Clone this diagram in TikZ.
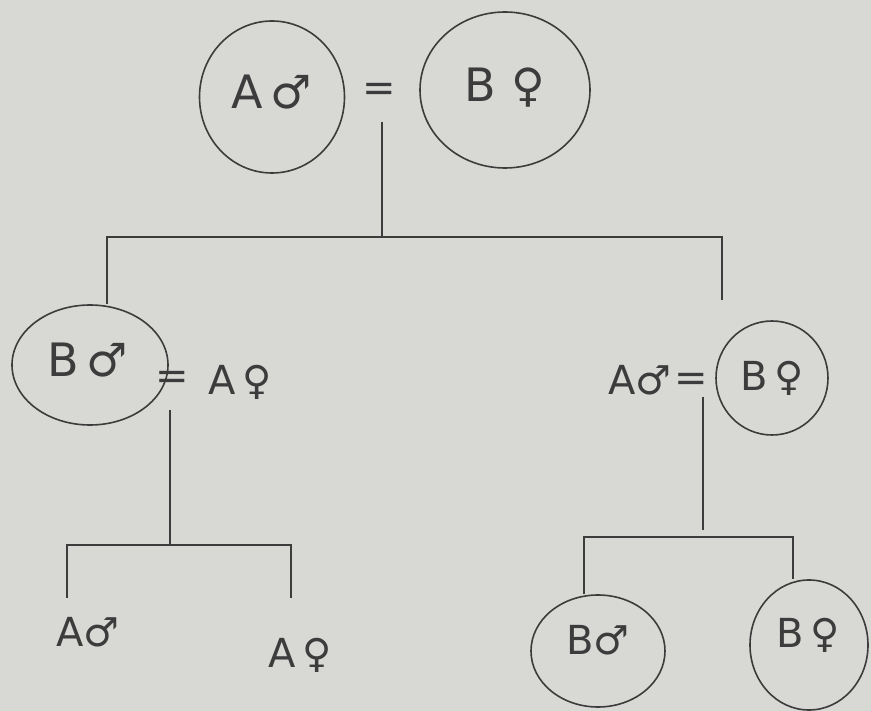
\documentclass[tikz,border=0pt]{standalone}
\usepackage{fontspec}
\setmainfont{DejaVu Sans}
\usetikzlibrary{shapes.geometric}
\definecolor{paper}{HTML}{D8D8D5}
\definecolor{ink}{HTML}{3C3C3C}
\tikzset{
  person/.style={ellipse, draw=ink, line width=1.6pt, inner sep=0pt},
  lbl/.style={text=ink, font=\fontsize{40}{48}\selectfont, inner sep=0pt},
  big/.style={text=ink, font=\fontsize{46}{54}\selectfont, inner sep=0pt},
  tie/.style={draw=ink, line width=1.6pt}
}
\begin{document}
\begin{tikzpicture}[x=1pt,y=-1pt]
\fill[paper] (0,0) rectangle (871,711);
\useasboundingbox (0,0) rectangle (871,711);
% generation 1
\node[person, minimum width=145pt, minimum height=152pt] (g1m) at (272,97) {};
\node[big] at (272,92) {A\,♂};
\node[person, minimum width=170pt, minimum height=156pt] (g1f) at (505,90) {};
\node[big] at (505,88) {B\,\,♀};
\node[lbl] (eq1) at (379,92) {=};
\coordinate (c1) at (382,122);
\coordinate (h1) at (382,237);
\coordinate (l1) at (107,237);
\coordinate (r1) at (722,237);
\coordinate (r1e) at (722,300);
% generation 2 left
\node[person, minimum width=156pt, minimum height=120pt] (g2lm) at (90,365) {};
\node[big] at (88,360) {B\,♂};
\node[lbl] (eq2) at (172,380) {=};
\node[lbl] (g2lf) at (240,382) {A\,♀};
\coordinate (c2) at (170,410);
\coordinate (h2) at (170,545);
\coordinate (l2) at (67,545);
\coordinate (l2e) at (67,598);
\coordinate (r2) at (291,545);
\coordinate (r2e) at (291,598);
% generation 2 right
\node[lbl] (g2rm) at (640,380) {A♂};
\node[lbl] (eq3) at (691,382) {=};
\node[person, minimum width=112pt, minimum height=114pt] (g2rf) at (772,378) {};
\node[lbl] at (772,378) {B\,♀};
\coordinate (c3) at (703,397);
\coordinate (h3) at (703,530);
\coordinate (h3b) at (703,537);
\coordinate (l3) at (584,537);
\coordinate (r3) at (793,537);
% generation 3
\node[lbl] (g3a) at (88,632) {A♂};
\node[lbl] (g3b) at (300,655) {A\,♀};
\node[person, minimum width=134pt, minimum height=112pt] (g3c) at (598,651) {};
\node[lbl] at (598,640) {B♂};
\node[person, minimum width=118pt, minimum height=130pt] (g3d) at (809,645) {};
\node[lbl] at (808,635) {B\,♀};
% connectors
\draw[tie] (c1) -- (h1);
\draw[tie] (g2lm.north -| l1) -- (l1) -- (r1) -- (r1e);
\draw[tie] (c2) -- (h2);
\draw[tie] (l2e) -- (l2) -- (r2) -- (r2e);
\draw[tie] (c3) -- (h3);
\draw[tie] (g3c.north -| l3) -- (l3) -- (r3) -- (g3d.north -| r3);
\end{tikzpicture}
\end{document}
